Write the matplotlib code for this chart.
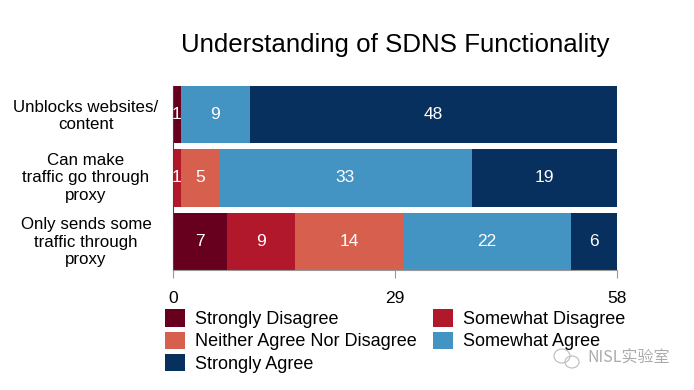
import matplotlib.pyplot as plt
from matplotlib.patches import Patch, Ellipse

plt.rcParams['font.family'] = ['Liberation Sans', 'DejaVu Sans']

categories = ['Unblocks websites/\ncontent', 'Can make\ntraffic go through\nproxy',
              'Only sends some\ntraffic through\nproxy']
levels = ['Strongly Disagree', 'Somewhat Disagree', 'Neither Agree Nor Disagree',
          'Somewhat Agree', 'Strongly Agree']
strongly_disagree = [1, 0, 7]
somewhat_disagree = [0, 1, 9]
neutral = [0, 5, 14]
somewhat_agree = [9, 33, 22]
strongly_agree = [48, 19, 6]
xticks = [0, 29, 58]

colors = ['#67001f', '#b2182b', '#d6604d', '#4393c3', '#08305e']
series = [strongly_disagree, somewhat_disagree, neutral, somewhat_agree, strongly_agree]

fig = plt.figure(figsize=(6.94, 3.9), dpi=100)
ax = fig.add_axes([173 / 694, 1 - 270 / 390, (617 - 173) / 694, (270 - 86) / 390])

ypos = range(len(categories))
left = [0] * len(categories)
for vals, col in zip(series, colors):
    bars = ax.barh(ypos, vals, left=left, height=0.9, color=col, edgecolor='none')
    for b, v in zip(bars, vals):
        if v > 0:
            ax.text(b.get_x() + b.get_width() / 2, b.get_y() + b.get_height() / 2, str(v),
                    ha='center', va='center', color='white', fontsize=12.5)
    left = [l + v for l, v in zip(left, vals)]

ax.set_ylim(2.45, -0.45)
ax.set_xlim(0, 58)
ax.set_xticks(xticks)
ax.set_xticklabels([str(t) for t in xticks], fontsize=12.5)
ax.tick_params(axis='x', length=6, width=0.8, color='#999999', pad=9)
ax.set_yticks([])
for s in ['top', 'right']:
    ax.spines[s].set_visible(False)
ax.spines['left'].set_color('#444444')
ax.spines['bottom'].set_color('#999999')

for i, c in enumerate(categories):
    fig.text(86 / 694, 1 - [116, 178, 242][i] / 390, c, ha='center', va='center',
             fontsize=12.2, linespacing=1.22)

fig.text(395 / 694, 1 - 45 / 390, 'Understanding of SDNS Functionality',
         ha='center', va='center', fontsize=18.6)

# legend fills row by row in the reference
order = [0, 2, 4, 1, 3]
handles = [Patch(facecolor=colors[i], edgecolor='none') for i in order]
labels = [levels[i] for i in order]
fig.legend(handles, labels, loc='upper left', bbox_to_anchor=(158 / 694, 1 - 302 / 390),
           ncol=2, frameon=False, fontsize=13, handlelength=1.1, handleheight=1.1,
           handletextpad=0.55, columnspacing=0.9, labelspacing=0.2, borderaxespad=0)

# watermark
fig.patches.append(Ellipse((562 / 694, 1 - 356 / 390), 16 / 694, 14 / 390,
                           transform=fig.transFigure, fill=False, ec='#bbbbbb', lw=0.8))
fig.patches.append(Ellipse((572 / 694, 1 - 362 / 390), 14 / 694, 12 / 390,
                           transform=fig.transFigure, fill=False, ec='#bbbbbb', lw=0.8))
fig.text(587 / 694, 1 - 358 / 390, 'NISL实验室', color='#aaaaaa', fontsize=11.5,
         va='center', family=['Noto Sans CJK SC', 'DejaVu Sans'])

fig.savefig('out.png', dpi=100)
